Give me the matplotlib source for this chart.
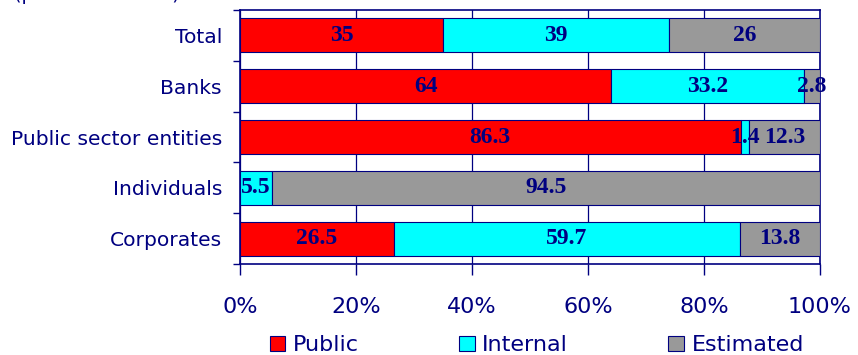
import numpy as np
import matplotlib
matplotlib.use("Agg")
import matplotlib.pyplot as plt
from matplotlib.patches import Patch

categories = ["Total", "Banks", "Public sector entities", "Individuals", "Corporates"]
public = [35, 64, 86.3, 0, 26.5]
internal = [39, 33.2, 1.4, 5.5, 59.7]
estimated = [26, 2.8, 12.3, 94.5, 13.8]

series = [("Public", public, "#ff0000"),
          ("Internal", internal, "#00ffff"),
          ("Estimated", estimated, "#999999")]
navy = "#000080"

fig = plt.figure(figsize=(8.58, 3.55), dpi=100)
ax = fig.add_axes([0.2797, 0.2563, 0.676, 0.7155])

y = np.arange(len(categories))
left = np.zeros(len(categories))
for name, vals, col in series:
    vals = np.array(vals, dtype=float)
    ax.barh(y, vals, left=left, height=0.67, color=col, edgecolor=navy,
            linewidth=0.8, label=name, zorder=3)
    for yi, l, v in zip(y, left, vals):
        if v > 0:
            ax.text(l + v / 2, yi, f"{v:g}", ha="center", va="center",
                    fontsize=17, fontweight="bold", family="Liberation Serif",
                    color=navy, zorder=4)
    left += vals

ax.set_xlim(0, 100)
ax.set_ylim(len(categories) - 0.5, -0.5)
ax.set_xticks(np.arange(0, 101, 20))
ax.set_xticklabels([f"{t}%" for t in range(0, 101, 20)])
ax.set_yticks(y)
ax.set_yticklabels(categories)
ax.set_yticks(np.arange(-0.5, len(categories)), minor=True)

ax.grid(axis="x", color=navy, linewidth=0.9, zorder=0)
ax.set_axisbelow(True)
for s in ax.spines.values():
    s.set_color(navy)
    s.set_linewidth(1.2)

ax.tick_params(axis="x", colors=navy, length=8, width=1, pad=16,
               labelsize=16, labelcolor=navy)
ax.tick_params(axis="y", which="major", length=0, pad=13,
               labelsize=14.6, labelcolor=navy)
ax.tick_params(axis="y", which="minor", length=5, width=1, color=navy)

handles = [Patch(facecolor=c, edgecolor=navy, linewidth=0.8, label=n)
           for n, _, c in series]
fig.legend(handles=handles, loc="center left", bbox_to_anchor=(0.291, 0.027),
           ncol=3, frameon=False, fontsize=16, handlelength=0.7,
           handleheight=0.7, handletextpad=0.35, columnspacing=4.5,
           labelcolor=navy)

# subtitle sitting above the plot, mostly off the top edge
fig.text(0.21, 1.0, "(percent of debt)", ha="right", va="baseline",
         fontsize=14, color=navy)

fig.savefig("out.png", dpi=100)
